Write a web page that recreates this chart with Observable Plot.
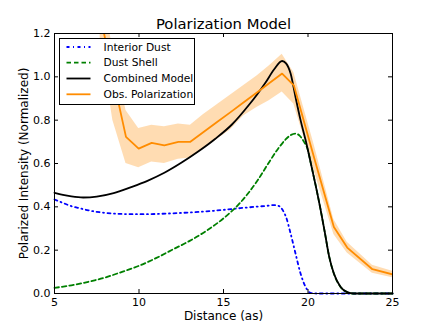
<!DOCTYPE html>
<html>
<head>
<meta charset="utf-8">
<script src="https://cdn.jsdelivr.net/npm/d3@7"></script>
<script src="https://cdn.jsdelivr.net/npm/@observablehq/plot@0.6"></script>
<style>
  html, body { margin: 0; padding: 0; background: white; }
  #chart { width: 436px; height: 327px; }
</style>
</head>
<body>
<div id="chart"></div>
<script>
// ---------- data ----------
const titleText = "Polarization Model";
const xLabel = "Distance (as)";
const yLabel = "Polarized Intensity (Normalized)";
const seriesNames = ["Interior Dust", "Dust Shell", "Combined Model", "Obs. Polarization"];

const xTicks = [5, 10, 15, 20, 25];
const yTicks = [0, 0.2, 0.4, 0.6, 0.8, 1.0, 1.2];

// Interior Dust
const interiorX = [5, 5.5, 6, 6.5, 7, 7.5, 8, 9, 10, 11, 12, 13, 14, 15, 16, 17, 17.6, 18.0, 18.3, 18.5, 18.7, 18.97, 19.26, 19.56, 19.86, 20.15, 20.5, 21, 22, 23, 25];
const interiorY = [0.434, 0.418, 0.403, 0.393, 0.384, 0.377, 0.372, 0.367, 0.366, 0.367, 0.370, 0.374, 0.379, 0.386, 0.394, 0.401, 0.405, 0.408, 0.403, 0.385, 0.353, 0.277, 0.185, 0.092, 0.030, 0.003, 0, 0, 0, 0, 0];

// Dust Shell
const shellX = [5, 6, 7, 8, 9, 10, 11, 12, 13, 14, 15, 16, 17, 17.69, 18.2, 18.69, 19.0, 19.26, 19.5, 19.75, 20.0, 20.15, 20.45, 20.75, 21.0, 21.24, 21.53, 21.93, 22.32, 22.7, 25];
const shellY = [0.026, 0.038, 0.054, 0.074, 0.100, 0.128, 0.163, 0.203, 0.243, 0.290, 0.347, 0.420, 0.520, 0.605, 0.665, 0.712, 0.732, 0.738, 0.729, 0.702, 0.660, 0.607, 0.500, 0.385, 0.280, 0.175, 0.092, 0.030, 0.006, 0, 0];

// Combined Model
const combinedX = [5, 5.5, 6, 6.7, 7.5, 8.5, 9.5, 10.5, 11.5, 12.5, 13.5, 14.5, 15.5, 16.5, 17.0, 17.5, 18.0, 18.47, 18.7, 18.97, 19.26, 19.56, 19.86, 20.15, 20.45, 20.75, 21.0, 21.24, 21.53, 21.93, 22.32, 22.7, 25];
const combinedY = [0.465, 0.455, 0.448, 0.443, 0.447, 0.463, 0.490, 0.520, 0.557, 0.603, 0.655, 0.713, 0.780, 0.870, 0.920, 0.975, 1.035, 1.073, 1.062, 1.015, 0.907, 0.800, 0.707, 0.607, 0.500, 0.385, 0.280, 0.175, 0.092, 0.030, 0.006, 0, 0];

// Obs. Polarization with its uncertainty band
const obsX  = [7.7, 8.45, 9.23, 9.98, 10.75, 11.5, 12.33, 13.04, 13.8, 14.6, 15.4, 16.2, 17.0, 17.7, 18.47, 19.16, 20.35, 21.53, 22.32, 23.81, 25];
const obsY  = [1.29, 1.00, 0.723, 0.669, 0.695, 0.684, 0.700, 0.700, 0.744, 0.790, 0.836, 0.883, 0.929, 0.970, 1.015, 0.961, 0.630, 0.307, 0.212, 0.112, 0.088];
const obsLo = [1.18, 0.80, 0.600, 0.580, 0.607, 0.600, 0.620, 0.625, 0.665, 0.710, 0.755, 0.820, 0.860, 0.890, 0.930, 0.875, 0.570, 0.272, 0.187, 0.094, 0.073];
const obsHi = [1.45, 1.13, 0.845, 0.762, 0.777, 0.770, 0.782, 0.777, 0.825, 0.870, 0.915, 0.960, 1.005, 1.050, 1.104, 1.020, 0.690, 0.342, 0.237, 0.130, 0.103];

// ---------- tables built from the arrays ----------
const interior = interiorX.map((x, i) => ({x, y: interiorY[i]}));
const shell = shellX.map((x, i) => ({x, y: shellY[i]}));
const combined = combinedX.map((x, i) => ({x, y: combinedY[i]}));
const obs = obsX.map((x, i) => ({x, y: obsY[i], lo: obsLo[i], hi: obsHi[i]}));

const styles = [
  {stroke: "#0000ff", width: 1.8, dash: "3,3.5,1,3.5"},
  {stroke: "#008000", width: 1.8, dash: "4.5,3"},
  {stroke: "#000000", width: 1.8, dash: null},
  {stroke: "#ff8c00", width: 1.8, dash: null}
];

const font = "'DejaVu Sans', 'Bitstream Vera Sans', sans-serif";
const mT = 33, mB = 34, mL = 54, mR = 44, W = 436, H = 327;
const frameH = H - mT - mB, frameW = W - mL - mR;

const chart = Plot.plot({
  width: W, height: H,
  marginTop: mT, marginBottom: mB, marginLeft: mL, marginRight: mR,
  style: {fontFamily: font, fontSize: "11px", background: "white", color: "black", overflow: "visible"},
  x: {domain: [5, 25]},
  y: {domain: [0, 1.2]},
  marks: [
    Plot.areaY(obs, {x: "x", y1: "lo", y2: "hi", fill: "#ff8c00", fillOpacity: 0.3, clip: true}),
    Plot.line(interior, {x: "x", y: "y", stroke: styles[0].stroke, strokeWidth: styles[0].width, strokeDasharray: styles[0].dash, curve: "monotone-x"}),
    Plot.line(shell, {x: "x", y: "y", stroke: styles[1].stroke, strokeWidth: styles[1].width, strokeDasharray: styles[1].dash, curve: "monotone-x"}),
    Plot.line(combined, {x: "x", y: "y", stroke: styles[2].stroke, strokeWidth: styles[2].width, curve: "monotone-x"}),
    Plot.line(obs, {x: "x", y: "y", stroke: styles[3].stroke, strokeWidth: styles[3].width, clip: true}),
    Plot.frame({stroke: "black", strokeWidth: 1}),
    // inward ticks on all four sides
    Plot.ruleX(xTicks, {stroke: "black", insetTop: frameH - 4}),
    Plot.ruleX(xTicks, {stroke: "black", insetBottom: frameH - 4}),
    Plot.ruleY(yTicks, {stroke: "black", insetRight: frameW - 4}),
    Plot.ruleY(yTicks, {stroke: "black", insetLeft: frameW - 4}),
    Plot.axisX({ticks: xTicks, tickSize: 0, tickPadding: 5, label: null, fontSize: 11}),
    Plot.axisY({ticks: yTicks, tickSize: 0, tickPadding: 4, tickFormat: d3.format(".1f"), label: null, fontSize: 11}),
    Plot.text([titleText], {frameAnchor: "top", dy: -5, lineAnchor: "bottom", textAnchor: "middle", fontSize: 14.8, fill: "black"}),
    Plot.text([xLabel], {frameAnchor: "bottom", dy: 23, lineAnchor: "middle", textAnchor: "middle", fontSize: 12, fill: "black"}),
    Plot.text([yLabel], {frameAnchor: "left", dx: -30, rotate: -90, lineAnchor: "middle", textAnchor: "middle", fontSize: 12, fill: "black"})
  ]
});

// legend drawn into the same SVG
const svg = d3.select(chart);
const lg = svg.append("g").attr("transform", "translate(59.5,38.5)");
lg.append("rect").attr("width", 135).attr("height", 66).attr("fill", "white").attr("stroke", "black").attr("stroke-width", 1);
const rowY = [8.5, 24.2, 40, 55.8];
seriesNames.forEach((name, i) => {
  const s = styles[i];
  const ln = lg.append("line").attr("x1", 7).attr("x2", 31).attr("y1", rowY[i]).attr("y2", rowY[i])
    .attr("stroke", s.stroke).attr("stroke-width", s.width);
  if (s.dash) ln.attr("stroke-dasharray", s.dash);
  lg.append("text").attr("x", 44).attr("y", rowY[i]).attr("dy", "0.35em")
    .attr("text-anchor", "start")
    .attr("font-family", font).attr("font-size", 10.7).attr("fill", "black").text(name);
});

document.getElementById("chart").appendChild(chart);
</script>
</body>
</html>
